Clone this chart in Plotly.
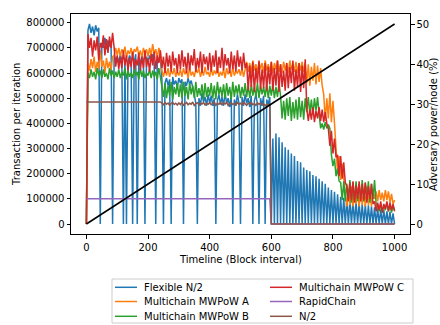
import plotly.graph_objects as go

# ---------------- data ----------------
STEP = 5
blocks = list(range(0, 1001, STEP))  # timeline, block interval

# transactions per iteration, in thousands, one value every 5 blocks
flexible_n2_k = (
    [0, 770, 795, 760, 785, 750, 790, 765, 780, 0, 720, 700, 740, 695, 730, 705, 725, 0, 670, 650]
    + [665, 640, 675, 650, 0, 660, 0, 645, 670, 655, 0, 640, 675, 0, 660, 635, 670, 650, 0, 665]
    + [640, 670, 650, 675, 635, 0, 665, 645, 660, 575, 0, 560, 580, 550, 575, 0, 585, 555, 570, 545]
    + [580, 560, 575, 0, 565, 550, 580, 555, 570, 545, 515, 480, 0, 500, 470, 520, 485, 505, 470, 515]
    + [480, 510, 470, 500, 0, 490, 515, 475, 505, 470, 520, 480, 500, 465, 510, 0, 495, 470, 515, 480]
    + [0, 505, 470, 515, 480, 500, 465, 510, 0, 490, 515, 475, 0, 500, 470, 510, 0, 495, 475, 505]
    + [0, 340, 0, 360, 0, 345, 0, 325, 0, 305, 0, 295, 0, 280, 0, 270, 0, 250, 0, 245]
    + [0, 225, 0, 215, 0, 210, 0, 195, 0, 190, 0, 180, 0, 170, 0, 160, 0, 145, 0, 135]
    + [0, 128, 0, 118, 0, 108, 0, 104, 0, 100, 0, 95, 0, 92, 0, 88, 0, 85, 0, 80]
    + [0, 78, 0, 74, 0, 70, 0, 66, 0, 62, 0, 58, 0, 55, 0, 50, 0, 48, 0, 42]
    + [0]
)

mwpow_a_k = (
    [0, 640, 610, 655, 620, 665, 605, 645, 615, 690, 625, 650, 600, 660, 620, 645, 610, 665, 670, 700]
    + [670, 700, 665, 695, 680, 705, 660, 690, 675, 700, 665, 695, 685, 705, 670, 690, 660, 700, 675, 695]
    + [665, 700, 670, 715, 675, 695, 660, 700, 680, 610, 585, 615, 590, 620, 585, 610, 595, 620, 585, 605]
    + [590, 615, 585, 620, 595, 610, 580, 625, 590, 605, 585, 615, 600, 620, 585, 610, 590, 625, 595, 605]
    + [585, 620, 590, 610, 595, 625, 585, 605, 590, 615, 580, 620, 595, 610, 585, 625, 590, 605, 600, 615]
    + [590, 620, 585, 610, 645, 605, 640, 600, 650, 610, 635, 600, 645, 615, 640, 600, 650, 610, 635, 605]
    + [645, 600, 640, 615, 650, 605, 635, 600, 645, 610, 640, 600, 650, 615, 635, 605, 645, 600, 640, 610]
    + [645, 605, 640, 560, 635, 550, 625, 570, 640, 555, 630, 565, 620, 550, 515, 410, 500, 420, 520, 405]
    + [490, 400, 285, 200, 270, 175, 240, 165, 120, 70, 140, 75, 150, 70, 130, 80, 145, 70, 135, 75]
    + [140, 70, 150, 75, 130, 70, 140, 100, 130, 90, 135, 95, 125, 90, 135, 95, 130, 85, 120, 80]
    + [95]
)

mwpow_b_k = (
    [0, 600, 580, 615, 585, 605, 575, 620, 590, 610, 580, 615, 585, 600, 575, 620, 590, 610, 580, 605]
    + [585, 615, 580, 605, 590, 620, 575, 610, 585, 600, 580, 615, 590, 605, 575, 620, 585, 610, 580, 600]
    + [590, 615, 580, 610, 585, 605, 575, 620, 585, 545, 505, 560, 500, 550, 510, 565, 495, 545, 515, 560]
    + [505, 555, 500, 565, 510, 545, 495, 560, 515, 550, 500, 565, 505, 540, 510, 555, 495, 560, 505, 545]
    + [510, 560, 500, 550, 495, 565, 515, 545, 505, 555, 500, 560, 510, 545, 495, 565, 505, 550, 515, 555]
    + [500, 545, 510, 560, 505, 550, 500, 555, 510, 545, 505, 560, 500, 550, 515, 545, 505, 555, 500, 550]
    + [510, 555, 500, 545, 505, 560, 510, 420, 490, 415, 500, 430, 505, 410, 485, 420, 495, 415, 505, 425]
    + [490, 415, 500, 445, 505, 440, 495, 435, 500, 450, 505, 440, 380, 400, 375, 405, 380, 395, 380, 275]
    + [230, 260, 190, 220, 170, 165, 95, 170, 90, 160, 100, 175, 85, 165, 95, 170, 90, 160, 100, 175]
    + [90, 165, 95, 170, 85, 160, 100, 175, 80, 70, 50, 80, 45, 75, 55, 85, 50, 75, 45, 70]
    + [55]
)

mwpow_c_k = (
    [0, 755, 700, 740, 665, 730, 690, 745, 650, 720, 700, 750, 670, 735, 680, 745, 700, 760, 700, 625]
    + [670, 615, 665, 620, 690, 630, 670, 610, 660, 625, 685, 615, 655, 630, 680, 610, 665, 620, 690, 625]
    + [660, 605, 675, 630, 685, 615, 670, 640, 690, 620, 665, 600, 680, 625, 670, 605, 685, 630, 660, 600]
    + [675, 615, 690, 625, 665, 600, 680, 610, 670, 630, 695, 605, 660, 620, 685, 600, 675, 635, 665, 610]
    + [680, 605, 670, 625, 690, 600, 665, 620, 700, 610, 675, 630, 660, 600, 685, 615, 670, 605, 690, 625]
    + [665, 610, 680, 620, 640, 530, 630, 545, 645, 525, 620, 560, 650, 535, 615, 540, 640, 530, 625, 555]
    + [645, 530, 620, 550, 650, 525, 635, 545, 610, 530, 640, 540, 625, 560, 650, 530, 615, 545, 640, 525]
    + [630, 540, 655, 460, 410, 455, 415, 465, 405, 450, 420, 465, 410, 455, 405, 445, 400, 380, 310, 370]
    + [280, 340, 265, 275, 190, 270, 180, 245, 165, 150, 90, 165, 95, 170, 85, 155, 100, 170, 90, 160]
    + [95, 165, 85, 150, 100, 160, 80, 90, 50, 85, 55, 90, 45, 80, 60, 90, 50, 85, 55, 80]
    + [50]
)

rapidchain_k = [100] * 120 + [0] * 81

n_half_k = (
    [485] * 49
    + [480, 474, 483, 476, 481, 472, 479, 484, 475, 480, 473]
    + [481, 475, 484, 472, 478, 483, 474, 480, 476, 485, 471, 479, 482, 474, 480, 477, 483, 473, 479, 476]
    + [482, 474, 479, 485, 472, 480, 476, 483, 474, 481, 477, 484, 471, 479, 482, 475, 480, 473, 483, 476]
    + [480, 474, 484, 477, 472, 481, 476, 483, 474, 479, 471, 482, 476, 480, 473, 478, 470, 476, 472, 478]
    + [0] * 81
)

# adversary power per node (%), right axis
adversary_x = [0, 1000]
adversary_pct = [0, 50]

x_ticks = [0, 200, 400, 600, 800, 1000]
y_ticks = [0, 100000, 200000, 300000, 400000, 500000, 600000, 700000, 800000]
y2_ticks = [0, 10, 20, 30, 40, 50]


def to_units(values_k):
    return [v * 1000 for v in values_k]


series = [
    ("Flexible N/2", flexible_n2_k, "#1f77b4"),
    ("Multichain MWPoW A", mwpow_a_k, "#ff7f0e"),
    ("Multichain MWPoW B", mwpow_b_k, "#2ca02c"),
    ("Multichain MWPoW C", mwpow_c_k, "#d62728"),
    ("RapidChain", rapidchain_k, "#9467bd"),
    ("N/2", n_half_k, "#8c564b"),
]

# ---------------- figure ----------------
W, H = 440, 325
ML, MR, MT, MB = 71, 30, 14, 91
PW, PH = W - ML - MR, H - MT - MB
FONT = "DejaVu Sans"


def px(x):
    return (x - ML) / PW


def py(y):
    return (MT + PH - y) / PH


fig = go.Figure()
for name, vals, color in series:
    fig.add_trace(go.Scatter(
        x=blocks, y=to_units(vals), mode="lines", name=name,
        line=dict(color=color, width=1.5), showlegend=False, yaxis="y"))

fig.add_trace(go.Scatter(
    x=adversary_x, y=adversary_pct, mode="lines", name="Adversary",
    line=dict(color="black", width=1.5), showlegend=False, yaxis="y2"))

axis_common = dict(
    showgrid=False, zeroline=False, showline=True, linecolor="black", linewidth=1,
    ticks="outside", ticklen=3.5, tickwidth=1, tickcolor="black", automargin=False,
    tickfont=dict(family=FONT, size=10, color="black"),
)

fig.update_layout(
    width=W, height=H,
    margin=dict(l=ML, r=MR, t=MT, b=MB, pad=0, autoexpand=False),
    paper_bgcolor="white", plot_bgcolor="white",
    font=dict(family=FONT, size=10, color="black"),
    xaxis=dict(range=[-50, 1050], tickvals=x_ticks, mirror=True, **axis_common),
    yaxis=dict(range=[-39750, 834750], tickvals=y_ticks, tickformat="d", mirror=True,
               **axis_common),
    yaxis2=dict(range=[-2.5, 52.5], tickvals=y2_ticks, tickformat="d", overlaying="y",
                side="right", **axis_common),
)

# axis titles placed like matplotlib
title_font = dict(family=FONT, size=10, color="black")
fig.add_annotation(xref="paper", yref="paper", x=px(240.5), y=py(259.5),
                   xanchor="center", yanchor="middle", text="Timeline (Block interval)",
                   showarrow=False, font=title_font, borderpad=0)
fig.add_annotation(xref="paper", yref="paper", x=px(16), y=py(124),
                   xanchor="center", yanchor="middle", text="Transaction per iteration",
                   textangle=-90, showarrow=False, font=title_font, borderpad=0)
fig.add_annotation(xref="paper", yref="paper", x=px(433), y=py(124),
                   xanchor="center", yanchor="middle", text="Adversary power/node (%)",
                   textangle=-90, showarrow=False, font=title_font, borderpad=0)

# ---------------- legend (matplotlib style, 2 columns) ----------------
box_l, box_r, box_t, box_b = 112, 413, 279, 323
fig.add_shape(type="rect", xref="paper", yref="paper",
              x0=px(box_l), x1=px(box_r), y0=py(box_b), y1=py(box_t),
              line=dict(color="#cccccc", width=1), fillcolor="white", layer="above")
col_x = [115, 270]
row_y = [287.3, 301.5, 316.3]
for i, (name, _, color) in enumerate(series):
    c, r = divmod(i, 3)
    x0 = col_x[c]
    yy = row_y[r]
    fig.add_shape(type="line", xref="paper", yref="paper",
                  x0=px(x0), x1=px(x0 + 22), y0=py(yy), y1=py(yy),
                  line=dict(color=color, width=1.5), layer="above")
    fig.add_annotation(xref="paper", yref="paper", x=px(x0 + 28), y=py(yy),
                       xanchor="left", yanchor="middle", text=name, showarrow=False,
                       font=dict(family=FONT, size=10, color="black"), borderpad=0)

fig.write_html(
    "out.html",
    config={"displayModeBar": False},
    post_script="document.body.style.margin='0';document.body.style.overflow='hidden';",
)
